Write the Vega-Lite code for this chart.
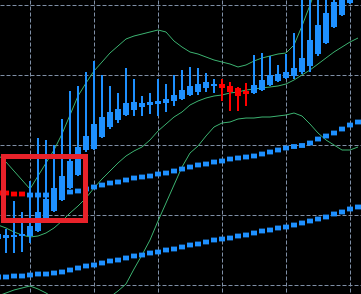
{
  "$schema": "https://vega.github.io/schema/vega-lite/v6.json",
  "width": 361,
  "height": 294,
  "autosize": {"type": "none"},
  "padding": 0,
  "background": "#000000",
  "config": {
    "view": {"stroke": null},
    "axis": {"grid": true, "gridColor": "#7f8fa6", "gridDash": [4, 2], "gridWidth": 1, "labels": false, "ticks": false, "domain": false, "title": null}
  },
  "datasets": {
    "bars": [
      {"i": -1, "o": 113.14, "h": 116.29, "l": 110.0, "c": 114.57, "up": 137.14, "mid": 117.14, "lo": 96.86, "m1": 126.29, "d": "down", "m2": 102.29},
      {"i": 0, "o": 113.43, "h": 116.0, "l": 109.14, "c": 114.29, "up": 135.14, "mid": 116.29, "lo": 97.72, "m1": 126.29, "d": "down", "m2": 102.29},
      {"i": 1, "o": 113.72, "h": 124.0, "l": 109.14, "c": 114.29, "up": 132.57, "mid": 115.14, "lo": 98.57, "m1": 126.0, "d": "down", "m2": 102.57},
      {"i": 2, "o": 114.0, "h": 120.86, "l": 109.43, "c": 114.57, "up": 130.0, "mid": 114.29, "lo": 99.14, "m1": 126.0, "d": "down", "m2": 102.57},
      {"i": 3, "o": 114.0, "h": 129.71, "l": 112.0, "c": 116.86, "up": 127.43, "mid": 113.72, "lo": 99.72, "m1": 125.71, "d": "up", "m2": 102.86},
      {"i": 4, "o": 115.43, "h": 142.0, "l": 115.14, "c": 120.86, "up": 131.14, "mid": 114.0, "lo": 98.86, "m1": 125.71, "d": "up", "m2": 103.14},
      {"i": 5, "o": 118.86, "h": 141.43, "l": 118.57, "c": 124.57, "up": 134.86, "mid": 114.86, "lo": 97.72, "m1": 125.71, "d": "up", "m2": 103.14},
      {"i": 6, "o": 121.14, "h": 140.0, "l": 120.86, "c": 127.71, "up": 138.57, "mid": 116.29, "lo": 96.29, "m1": 126.0, "d": "up", "m2": 103.43},
      {"i": 7, "o": 124.29, "h": 147.43, "l": 124.0, "c": 131.14, "up": 143.14, "mid": 118.29, "lo": 94.57, "m1": 126.29, "d": "up", "m2": 103.72},
      {"i": 8, "o": 127.71, "h": 155.43, "l": 127.43, "c": 135.43, "up": 148.57, "mid": 120.57, "lo": 93.43, "m1": 126.57, "d": "up", "m2": 104.29},
      {"i": 9, "o": 131.43, "h": 156.86, "l": 131.14, "c": 139.43, "up": 154.0, "mid": 122.57, "lo": 92.86, "m1": 126.86, "d": "up", "m2": 104.86},
      {"i": 10, "o": 138.57, "h": 160.86, "l": 138.0, "c": 142.57, "up": 157.71, "mid": 124.86, "lo": 92.86, "m1": 127.43, "d": "up", "m2": 105.43},
      {"i": 11, "o": 138.86, "h": 164.0, "l": 138.57, "c": 146.0, "up": 161.14, "mid": 127.71, "lo": 93.43, "m1": 128.0, "d": "up", "m2": 105.72},
      {"i": 12, "o": 142.29, "h": 160.0, "l": 142.0, "c": 148.0, "up": 163.71, "mid": 130.29, "lo": 94.86, "m1": 128.57, "d": "up", "m2": 106.29},
      {"i": 13, "o": 145.14, "h": 156.86, "l": 144.57, "c": 149.43, "up": 166.29, "mid": 132.57, "lo": 96.57, "m1": 129.14, "d": "up", "m2": 106.86},
      {"i": 14, "o": 147.14, "h": 154.86, "l": 146.29, "c": 150.29, "up": 168.29, "mid": 134.86, "lo": 98.29, "m1": 129.43, "d": "up", "m2": 107.14},
      {"i": 15, "o": 148.57, "h": 162.0, "l": 148.29, "c": 152.0, "up": 170.29, "mid": 136.86, "lo": 100.29, "m1": 130.0, "d": "up", "m2": 107.72},
      {"i": 16, "o": 150.0, "h": 158.86, "l": 148.29, "c": 152.29, "up": 171.14, "mid": 138.29, "lo": 104.57, "m1": 130.57, "d": "up", "m2": 108.29},
      {"i": 17, "o": 150.86, "h": 154.0, "l": 148.29, "c": 152.0, "up": 171.71, "mid": 139.43, "lo": 108.57, "m1": 130.86, "d": "up", "m2": 108.57},
      {"i": 18, "o": 151.43, "h": 154.86, "l": 148.86, "c": 152.29, "up": 172.29, "mid": 141.43, "lo": 112.86, "m1": 131.14, "d": "up", "m2": 109.14},
      {"i": 19, "o": 151.71, "h": 158.86, "l": 148.29, "c": 152.57, "up": 172.86, "mid": 144.0, "lo": 118.29, "m1": 131.71, "d": "up", "m2": 109.43},
      {"i": 20, "o": 152.0, "h": 157.43, "l": 149.43, "c": 153.14, "up": 172.29, "mid": 146.0, "lo": 123.43, "m1": 132.0, "d": "up", "m2": 110.0},
      {"i": 21, "o": 152.57, "h": 160.0, "l": 151.14, "c": 154.29, "up": 169.71, "mid": 148.0, "lo": 128.57, "m1": 132.57, "d": "up", "m2": 110.29},
      {"i": 22, "o": 153.14, "h": 161.43, "l": 152.86, "c": 155.71, "up": 168.0, "mid": 149.43, "lo": 133.71, "m1": 133.14, "d": "up", "m2": 110.86},
      {"i": 23, "o": 154.29, "h": 162.29, "l": 154.0, "c": 156.86, "up": 166.57, "mid": 151.43, "lo": 137.71, "m1": 133.71, "d": "up", "m2": 111.43},
      {"i": 24, "o": 155.14, "h": 162.0, "l": 154.29, "c": 157.43, "up": 166.0, "mid": 152.57, "lo": 139.71, "m1": 134.29, "d": "up", "m2": 111.72},
      {"i": 25, "o": 156.29, "h": 160.57, "l": 155.14, "c": 158.0, "up": 165.14, "mid": 153.43, "lo": 142.57, "m1": 134.57, "d": "up", "m2": 112.29},
      {"i": 26, "o": 156.86, "h": 158.86, "l": 154.86, "c": 157.43, "up": 164.29, "mid": 154.0, "lo": 145.14, "m1": 135.14, "d": "up", "m2": 112.86},
      {"i": 27, "o": 157.43, "h": 158.86, "l": 152.57, "c": 156.29, "up": 163.71, "mid": 154.29, "lo": 146.29, "m1": 135.43, "d": "up", "m2": 113.14},
      {"i": 28, "o": 156.86, "h": 158.0, "l": 149.71, "c": 155.14, "up": 163.14, "mid": 154.86, "lo": 146.57, "m1": 136.0, "d": "up", "m2": 113.43},
      {"i": 29, "o": 156.29, "h": 156.57, "l": 149.71, "c": 154.0, "up": 162.29, "mid": 155.14, "lo": 147.43, "m1": 136.29, "d": "up", "m2": 114.0},
      {"i": 30, "o": 155.43, "h": 157.71, "l": 151.14, "c": 154.57, "up": 162.86, "mid": 155.71, "lo": 147.71, "m1": 136.57, "d": "up", "m2": 114.29},
      {"i": 31, "o": 154.86, "h": 165.71, "l": 154.57, "c": 157.14, "up": 164.0, "mid": 156.0, "lo": 147.71, "m1": 136.86, "d": "up", "m2": 114.86},
      {"i": 32, "o": 155.71, "h": 166.29, "l": 155.43, "c": 158.57, "up": 164.86, "mid": 156.29, "lo": 148.0, "m1": 137.43, "d": "up", "m2": 115.43},
      {"i": 33, "o": 157.14, "h": 165.43, "l": 156.86, "c": 160.0, "up": 165.43, "mid": 156.57, "lo": 148.0, "m1": 138.0, "d": "up", "m2": 115.72},
      {"i": 34, "o": 158.29, "h": 162.86, "l": 158.0, "c": 160.29, "up": 166.0, "mid": 156.86, "lo": 148.29, "m1": 138.57, "d": "up", "m2": 116.29},
      {"i": 35, "o": 159.14, "h": 166.0, "l": 158.86, "c": 160.86, "up": 166.29, "mid": 157.43, "lo": 148.57, "m1": 139.14, "d": "up", "m2": 116.57},
      {"i": 36, "o": 159.71, "h": 172.0, "l": 158.86, "c": 162.0, "up": 168.57, "mid": 158.57, "lo": 149.14, "m1": 139.57, "d": "up", "m2": 117.14},
      {"i": 37, "o": 160.86, "h": 187.14, "l": 160.29, "c": 164.86, "up": 174.0, "mid": 160.0, "lo": 148.29, "m1": 139.86, "d": "up", "m2": 117.72},
      {"i": 38, "o": 162.57, "h": 187.14, "l": 160.86, "c": 170.0, "up": 180.0, "mid": 161.43, "lo": 146.0, "m1": 140.57, "d": "up", "m2": 118.29},
      {"i": 39, "o": 166.0, "h": 187.14, "l": 165.43, "c": 174.29, "up": 186.29, "mid": 163.14, "lo": 143.43, "m1": 141.71, "d": "up", "m2": 118.86},
      {"i": 40, "o": 169.14, "h": 187.14, "l": 168.86, "c": 177.71, "up": 191.43, "mid": 164.86, "lo": 141.43, "m1": 142.57, "d": "up", "m2": 119.43},
      {"i": 41, "o": 173.71, "h": 187.14, "l": 173.43, "c": 180.86, "up": 195.71, "mid": 166.57, "lo": 140.0, "m1": 143.43, "d": "up", "m2": 120.29},
      {"i": 42, "o": 177.14, "h": 187.14, "l": 176.86, "c": 183.71, "up": 198.57, "mid": 168.0, "lo": 138.57, "m1": 144.57, "d": "up", "m2": 120.86},
      {"i": 43, "o": 180.57, "h": 190.0, "l": 180.29, "c": 185.71, "up": 200.86, "mid": 169.43, "lo": 138.57, "m1": 145.71, "d": "up", "m2": 121.72},
      {"i": 44, "up": 202.57, "mid": 170.57, "lo": 139.43, "m1": 146.57, "d": "up", "m2": 122.29}
    ],
    "box": [
      {"x1": -0.3125, "x2": 9.9375, "y1": 136.71, "y2": 118.43}
    ]
  },
  "layer": [
    {
      "data": {"name": "bars"},
      "transform": [{"fold": ["up", "mid", "lo"], "as": ["band", "val"]}],
      "mark": {"type": "line", "color": "#3cb371", "strokeWidth": 1, "clip": true},
      "encoding": {
        "x": {"field": "i", "type": "quantitative", "scale": {"domain": [-0.75, 44.375], "nice": false, "zero": false, "padding": 0}, "axis": {"values": [3, 7, 11, 15, 19, 23, 27, 31, 35, 39, 43]}},
        "y": {"field": "val", "type": "quantitative", "scale": {"domain": [97.43, 181.43], "nice": false, "zero": false, "padding": 0}, "axis": {"values": [100, 110, 120, 130, 140, 150, 160, 170, 180]}},
        "detail": {"field": "band"}
      }
    },
    {
      "data": {"name": "bars"},
      "mark": {"type": "point", "shape": "M-1,-0.8H1V0.8H-1Z", "filled": true, "opacity": 1, "size": 36, "clip": true},
      "encoding": {
        "x": {"field": "i", "type": "quantitative"},
        "y": {"field": "m2", "type": "quantitative"},
        "color": {"value": "#1e90ff"}
      }
    },
    {
      "data": {"name": "bars"},
      "mark": {"type": "point", "shape": "M-1,-0.8H1V0.8H-1Z", "filled": true, "opacity": 1, "size": 36, "clip": true},
      "encoding": {
        "x": {"field": "i", "type": "quantitative"},
        "y": {"field": "m1", "type": "quantitative"},
        "color": {"field": "d", "type": "nominal", "scale": {"domain": ["down", "up"], "range": ["#ff0000", "#1e90ff"]}, "legend": null}
      }
    },
    {
      "data": {"name": "bars"},
      "mark": {"type": "rule", "strokeWidth": 2, "clip": true},
      "encoding": {
        "x": {"field": "i", "type": "quantitative"},
        "y": {"field": "l", "type": "quantitative"},
        "y2": {"field": "h"},
        "color": {"condition": {"test": "datum.c < datum.o", "value": "#ff0000"}, "value": "#1e90ff"}
      }
    },
    {
      "data": {"name": "bars"},
      "mark": {"type": "bar", "width": 6, "clip": true},
      "encoding": {
        "x": {"field": "i", "type": "quantitative"},
        "y": {"field": "o", "type": "quantitative"},
        "y2": {"field": "c"},
        "color": {"condition": {"test": "datum.c < datum.o", "value": "#ff0000"}, "value": "#1e90ff"}
      }
    },
    {
      "data": {"name": "box"},
      "mark": {"type": "rect", "filled": false, "stroke": "#e8222a", "strokeWidth": 5, "clip": true},
      "encoding": {
        "x": {"field": "x1", "type": "quantitative"},
        "x2": {"field": "x2"},
        "y": {"field": "y1", "type": "quantitative"},
        "y2": {"field": "y2"}
      }
    }
  ]
}
